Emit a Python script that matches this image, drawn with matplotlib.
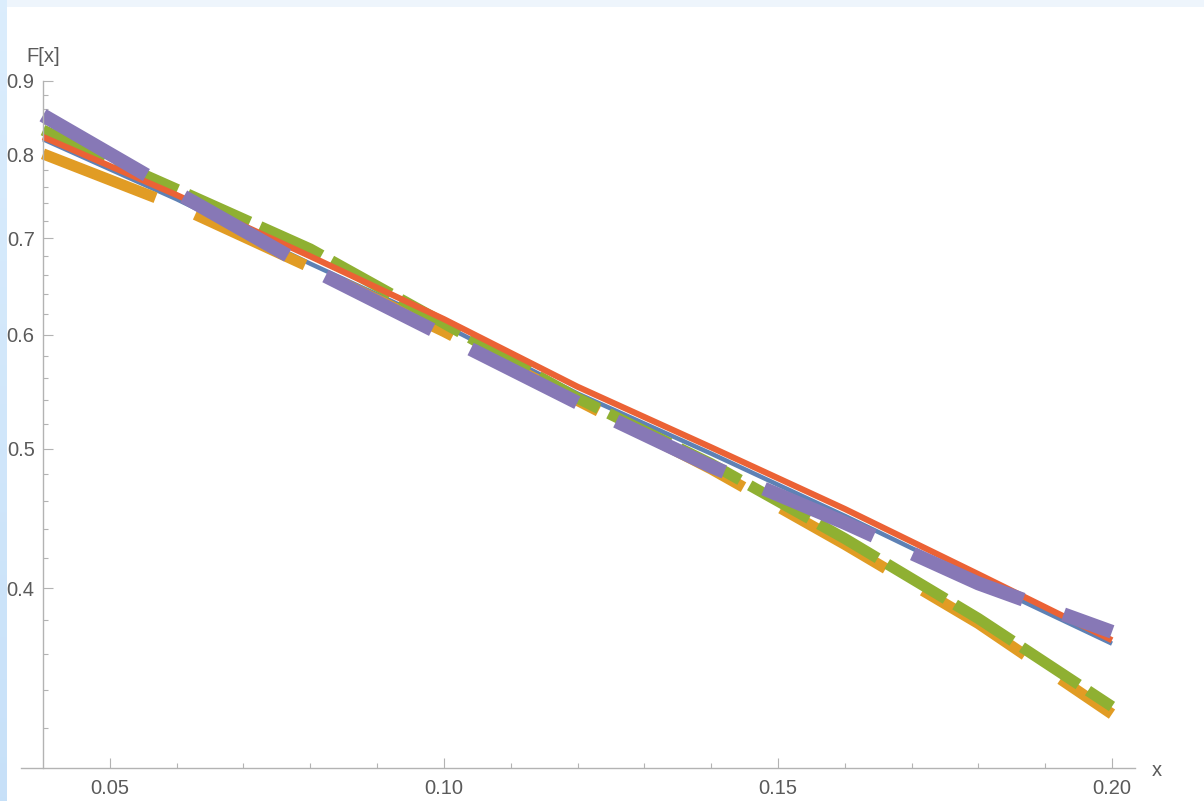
import numpy as np
import matplotlib
matplotlib.use("Agg")
import matplotlib.pyplot as plt
from matplotlib.ticker import FixedLocator, FixedFormatter, NullFormatter

# ---- data ----
x = [0.04, 0.06, 0.08, 0.10, 0.12, 0.14, 0.16, 0.18, 0.20]
blue   = [0.820, 0.745, 0.672, 0.609, 0.546, 0.496, 0.449, 0.405, 0.366]
orange = [0.801, 0.737, 0.668, 0.603, 0.540, 0.484, 0.429, 0.378, 0.327]
green  = [0.832, 0.757, 0.688, 0.611, 0.542, 0.488, 0.433, 0.381, 0.331]
red    = [0.823, 0.750, 0.680, 0.615, 0.552, 0.501, 0.454, 0.409, 0.368]
purple = [0.852, 0.753, 0.667, 0.599, 0.538, 0.486, 0.444, 0.403, 0.373]

x_major = [0.05, 0.10, 0.15, 0.20]
x_major_labels = ["0.05", "0.10", "0.15", "0.20"]
x_minor = [0.06, 0.07, 0.08, 0.09, 0.11, 0.12, 0.13, 0.14, 0.16, 0.17, 0.18, 0.19]
y_major = [0.4, 0.5, 0.6, 0.7, 0.8, 0.9]
y_major_labels = ["0.4", "0.5", "0.6", "0.7", "0.8", "0.9"]
y_minor = [0.32, 0.34, 0.36, 0.38, 0.42, 0.44, 0.46, 0.48, 0.52, 0.54, 0.56, 0.58,
           0.62, 0.64, 0.66, 0.68, 0.72, 0.74, 0.76, 0.78, 0.82, 0.84, 0.86, 0.88]

plt.rcParams['font.family'] = ['Liberation Sans', 'DejaVu Sans']
plt.rcParams['lines.scale_dashes'] = False

W, H = 1204, 801
fig = plt.figure(figsize=(W / 100, H / 100), dpi=100)
fig.patch.set_facecolor('white')

# background frame (light-blue strips on top and left)
bg = np.ones((H, W, 3))
top_col = np.array([0.935, 0.962, 0.99])
bg[:7, :, :] = top_col
rows = np.linspace(0, 1, H)[:, None]
left_top = np.array([0.86, 0.93, 0.99])
left_bot = np.array([0.78, 0.88, 0.975])
left = left_top[None, :] * (1 - rows) + left_bot[None, :] * rows
bg[:, :7, :] = left[:, None, :]
bax = fig.add_axes([0, 0, 1, 1], zorder=-10)
bax.imshow(bg, aspect='auto', interpolation='nearest')
bax.axis('off')

# main axes: x-axis line from px 21 to 1135, y from px 81 (0.9) to 768 (0.3)
ppu = (1112 - 43) / 0.16
xl = 0.04 - 22 / ppu
xr = 0.20 + 23 / ppu
ax = fig.add_axes([21 / W, 33 / H, (1135 - 21) / W, (768 - 81) / H])
ax.set_facecolor('none')
ax.set_yscale('log')
ax.set_xlim(xl, xr)
ax.set_ylim(0.3, 0.9)

colors = {'blue': '#5E81B5', 'orange': '#E19C24', 'green': '#8FB032',
          'red': '#EB6235', 'purple': '#8778B6'}

ax.plot(x, blue, color=colors['blue'], lw=3.2, solid_capstyle='butt', clip_on=False)
ax.plot(x, orange, color=colors['orange'], lw=8.0, dashes=(87, 31),
        dash_capstyle='butt', clip_on=False)
ax.plot(x, green, color=colors['green'], lw=8.0, dashes=(49, 8),
        dash_capstyle='butt', clip_on=False)
ax.plot(x, red, color=colors['red'], lw=4.4, solid_capstyle='butt', clip_on=False)
ax.plot(x, purple, color=colors['purple'], lw=10.0, dashes=(86, 31),
        dash_capstyle='butt', clip_on=False)

axis_col = '#b3b3b3'
for s in ['top', 'right']:
    ax.spines[s].set_visible(False)
ax.spines['left'].set_position(('data', 0.04))
ax.spines['left'].set_bounds(0.3, 0.9)
ax.spines['left'].set_color(axis_col)
ax.spines['bottom'].set_color(axis_col)
ax.spines['left'].set_linewidth(1.0)
ax.spines['bottom'].set_linewidth(1.0)

ax.xaxis.set_major_locator(FixedLocator(x_major))
ax.xaxis.set_major_formatter(FixedFormatter(x_major_labels))
ax.xaxis.set_minor_locator(FixedLocator(x_minor))
ax.xaxis.set_minor_formatter(NullFormatter())
ax.yaxis.set_major_locator(FixedLocator(y_major))
ax.yaxis.set_major_formatter(FixedFormatter(y_major_labels))
ax.yaxis.set_minor_locator(FixedLocator(y_minor))
ax.yaxis.set_minor_formatter(NullFormatter())

lab_col = '#5a5a5a'
fs = 14.5
ax.tick_params(axis='both', which='major', direction='in', length=7, width=0.8,
               color=axis_col, labelcolor=lab_col, labelsize=fs)
ax.tick_params(axis='both', which='minor', direction='in', length=3.8, width=0.8,
               color=axis_col)
ax.tick_params(axis='x', which='major', pad=8)
ax.tick_params(axis='y', which='major', pad=6)

fig.text(43 / W, 1 - 56 / H, 'F[x]', ha='center', va='center', fontsize=fs, color=lab_col)
fig.text(1157 / W, 1 - 771 / H, 'x', ha='center', va='center', fontsize=fs, color=lab_col)

fig.savefig('out.png', dpi=100)
